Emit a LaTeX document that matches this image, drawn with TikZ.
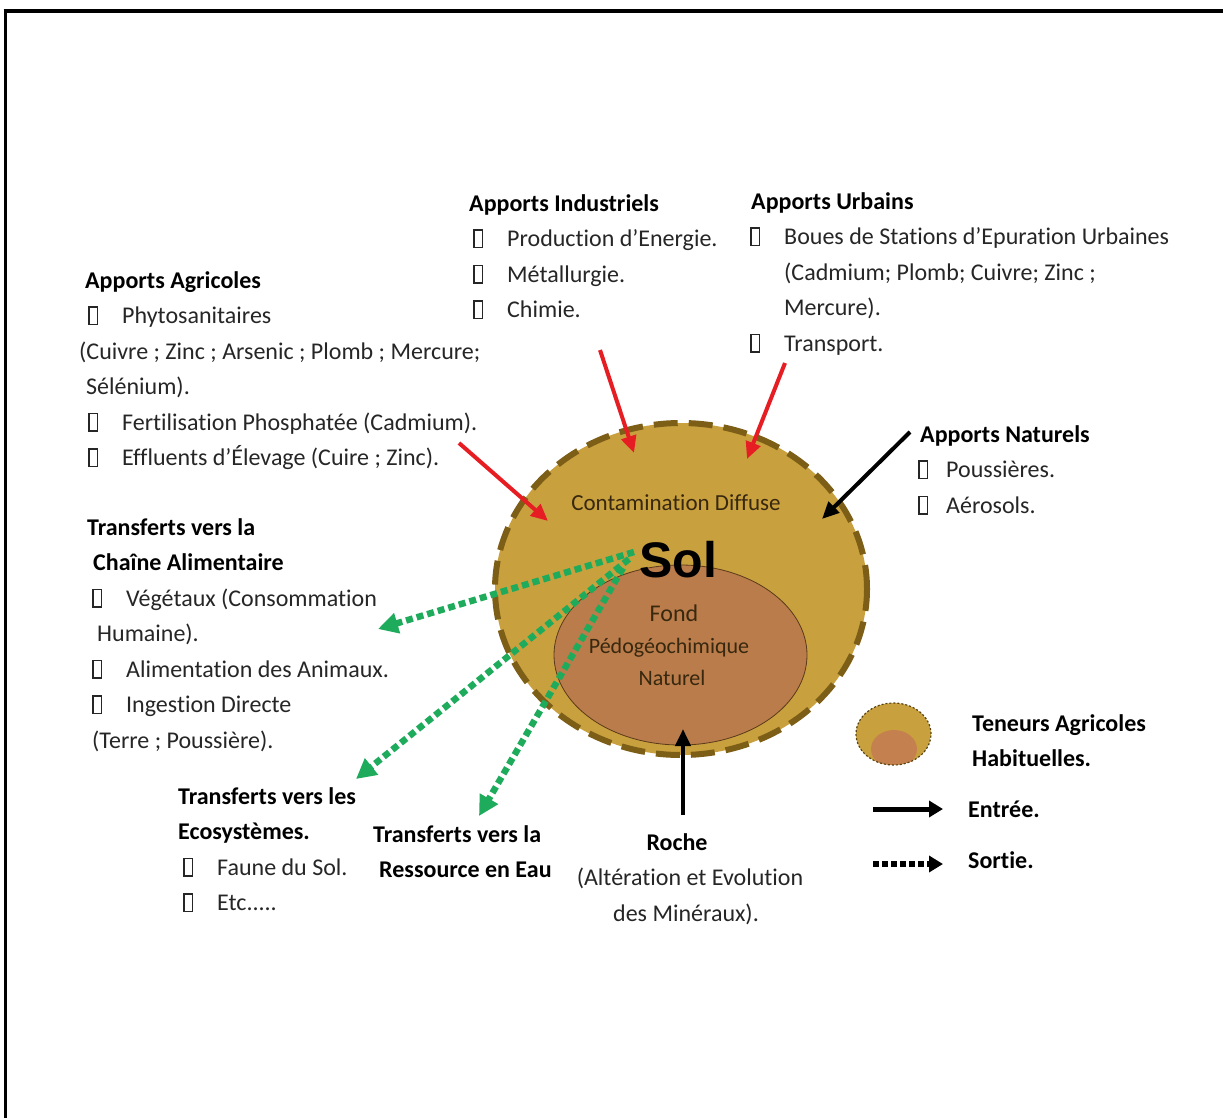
\documentclass[tikz,border=0pt]{standalone}
\usepackage{fontspec}
\setmainfont{Carlito}[Ligatures=NoCommon]
\newfontfamily\solfont{Liberation Sans}
\usetikzlibrary{arrows.meta}
\definecolor{gold}{RGB}{201,160,62}
\definecolor{goldedge}{RGB}{125,94,23}
\definecolor{brownin}{RGB}{186,124,74}
\definecolor{browninedge}{RGB}{90,58,26}
\definecolor{legin}{RGB}{196,128,78}
\definecolor{redar}{RGB}{230,30,36}
\definecolor{greenar}{RGB}{30,172,92}
\definecolor{textgray}{RGB}{38,38,38}
\definecolor{conttext}{RGB}{55,40,15}
\newcommand{\bul}{{\setlength{\fboxsep}{0pt}\setlength{\fboxrule}{1.4pt}\fbox{\rule{0pt}{16pt}\hspace{7pt}}}}
\newcommand{\bitem}{\makebox[34pt][l]{\bul}}
\newcommand{\fs}{\rule{0pt}{20pt}}
\tikzset{
  txt/.style={anchor=north west, inner sep=0pt, align=left, text=textgray,
    font=\fontsize{24}{35.5}\selectfont},
  redarrow/.style={draw=redar, line width=4pt, -{Triangle[length=17pt,width=15pt]}},
  blackarrow/.style={draw=black, line width=4pt, -{Triangle[length=17pt,width=15pt]}},
  greenarrow/.style={draw=greenar, line width=6.5pt, dash pattern=on 7pt off 4pt,
    -{Triangle[length=20pt,width=20pt]}},
}
\begin{document}
\begin{tikzpicture}[x=1pt,y=-1pt]
\useasboundingbox (0,0) rectangle (1223,1117);
\fill[white] (0,0) rectangle (1223,1117);
% frame
\draw[line width=4pt] (3.5,10.5) -- (1230,10.5);
\draw[line width=3pt] (5,9) -- (5,1120);

% main soil ellipse
\fill[gold] (681,589) ellipse [x radius=186pt, y radius=166pt];
\fill[brownin] (680.5,655) ellipse [x radius=126.5pt, y radius=90pt];
\draw[browninedge, line width=0.8pt] (680.5,655) ellipse [x radius=126.5pt, y radius=90pt];
\draw[goldedge, line width=6pt, dash pattern=on 24pt off 11pt] (681,589) ellipse [x radius=186pt, y radius=166pt];

% texts in ellipse
\node[inner sep=0pt, anchor=base, text=conttext, font=\fontsize{23}{28}\selectfont] (cont) at (676,510) {Contamination Diffuse};
\node[inner sep=0pt, anchor=base, font=\solfont\bfseries\fontsize{50}{55}\selectfont] (sol) at (678,577) {Sol};
\node[inner sep=0pt, anchor=base, text=conttext, font=\fontsize{24}{28}\selectfont] (fond) at (674,621) {Fond};
\node[inner sep=0pt, anchor=base, text=conttext, font=\fontsize{22}{28}\selectfont] (pedo) at (669,653) {Pédogéochimique};
\node[inner sep=0pt, anchor=base, text=conttext, font=\fontsize{22}{28}\selectfont] (nat) at (672,685) {Naturel};

% text blocks
\node[txt] (indus) at (469,191) {\fs\textcolor{black}{\textbf{Apports Industriels}}\\
\hspace*{4pt}\bitem Production d’Energie.\\
\hspace*{4pt}\bitem Métallurgie.\\
\hspace*{4pt}\bitem Chimie.};

\node[txt] (urb) at (750,189) {\fs\hspace*{1pt}\textcolor{black}{\textbf{Apports Urbains}}\\
\bitem Boues de Stations d’Epuration Urbaines\\
\hspace*{34pt}(Cadmium; Plomb; Cuivre; Zinc ;\\
\hspace*{34pt}Mercure).\\
\bitem Transport.};

\node[txt] (agri) at (79,268) {\fs\hspace*{6pt}\textcolor{black}{\textbf{Apports Agricoles}}\\
\hspace*{9pt}\bitem Phytosanitaires\\
(Cuivre ; Zinc ; Arsenic ; Plomb ; Mercure;\\
\hspace*{7pt}Sélénium).\\
\hspace*{9pt}\bitem Fertilisation Phosphatée (Cadmium).\\
\hspace*{9pt}\bitem Effluents d’Élevage (Cuire ; Zinc).};

\node[txt] (natur) at (918,422) {\fs\hspace*{2pt}\textcolor{black}{\textbf{Apports Naturels}}\\
\makebox[28pt][l]{\bul}Poussières.\\
\makebox[28pt][l]{\bul}Aérosols.};

\node[txt] (chaine) at (87,515) {\fs\textcolor{black}{\textbf{Transferts vers la}}\\
\hspace*{6pt}\textcolor{black}{\textbf{Chaîne Alimentaire}}\\
\hspace*{5pt}\bitem Végétaux (Consommation\\
\hspace*{10pt}Humaine).\\
\hspace*{5pt}\bitem Alimentation des Animaux.\\
\hspace*{5pt}\bitem Ingestion Directe\\
\hspace*{5pt}(Terre ; Poussière).};

\node[txt] (eco) at (178,784) {\fs\textcolor{black}{\textbf{Transferts vers les}}\\
\textcolor{black}{\textbf{Ecosystèmes.}}\\
\hspace*{5pt}\bitem Faune du Sol.\\
\hspace*{5pt}\bitem Etc.....};

\node[txt] (eau) at (373,822) {\fs\textcolor{black}{\textbf{Transferts vers la}}\\
\hspace*{6pt}\textcolor{black}{\textbf{Ressource en Eau}}};

\node[txt, anchor=north, align=center] (roche) at (690,830) {\fs\textcolor{black}{\textbf{Roche}}\hspace*{26pt}\\
(Altération et Evolution\\
\hspace*{-8pt}des Minéraux).};

% legend
\begin{scope}
\clip (893.5,734) ellipse [x radius=37.5pt, y radius=31pt];
\fill[gold] (893.5,734) ellipse [x radius=37.5pt, y radius=31pt];
\fill[legin] (894,749) ellipse [x radius=23pt, y radius=19pt];
\end{scope}
\draw[goldedge!70!black, line width=1.2pt, dash pattern=on 2pt off 2pt] (893.5,734) ellipse [x radius=37.5pt, y radius=31pt];
\node[txt] (teneurs) at (972,711) {\fs\textcolor{black}{\textbf{Teneurs Agricoles}}\\
\textcolor{black}{\textbf{Habituelles.}}};
\node[txt] (entree) at (968,797) {\fs\textcolor{black}{\textbf{Entrée.}}};
\node[txt] (sortie) at (968,848) {\fs\textcolor{black}{\textbf{Sortie.}}};
\coordinate (le1) at (873,809);
\coordinate (le2) at (943,809);
\coordinate (ls1) at (873,864);
\coordinate (ls2) at (943,864);
\draw[line width=5pt, -{Triangle[length=14pt,width=16pt]}] (le1) -- (le2);
\draw[line width=6pt, dash pattern=on 6pt off 3pt, -{Triangle[length=14pt,width=16pt]}] (ls1) -- (ls2);

% input arrows
\coordinate (agS) at (459,443);
\coordinate (agE) at (548,521);
\coordinate (inS) at (600,350);
\coordinate (inE) at (634,453);
\coordinate (urS) at (785,363);
\coordinate (urE) at (747,459);
\coordinate (naS) at (910,432);
\coordinate (naE) at (822,519);
\coordinate (roS) at (683,815);
\coordinate (roE) at (683,729);
\draw[redarrow] (agS) -- (agE);
\draw[redarrow] (inS) -- (inE);
\draw[redarrow] (urS) -- (urE);
\draw[blackarrow] (naS) -- (naE);
\draw[blackarrow] (roS) -- (roE);

% output arrows
\coordinate (g1S) at (634,552);
\coordinate (g1E) at (378,629);
\coordinate (g2S) at (629,559);
\coordinate (g2E) at (356,779);
\coordinate (g3S) at (623,568);
\coordinate (g3E) at (479,816);
\draw[greenarrow] (g1S) -- (g1E);
\draw[greenarrow] (g2S) -- (g2E);
\draw[greenarrow] (g3S) -- (g3E);
\end{tikzpicture}
\end{document}
